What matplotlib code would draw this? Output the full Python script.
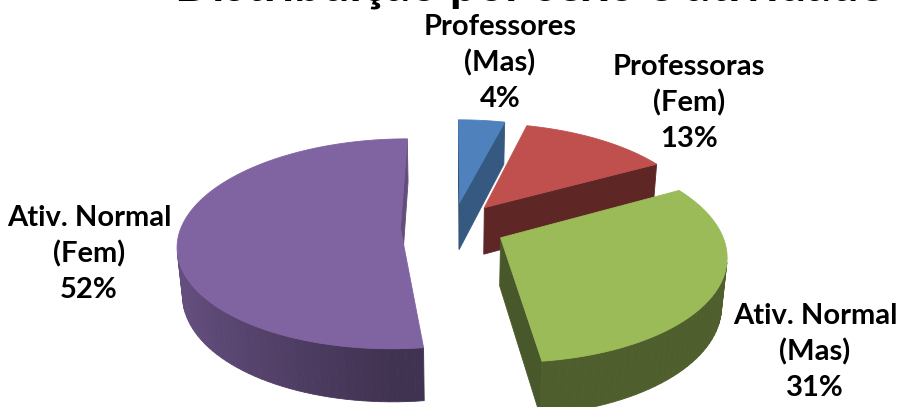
import numpy as np
import matplotlib.pyplot as plt
from matplotlib.patches import Polygon
from matplotlib.colors import to_rgb

W, H = 898, 407

categories = ["Professores\n(Mas)", "Professoras\n(Fem)", "Ativ. Normal\n(Mas)", "Ativ. Normal\n(Fem)"]
shares = [4, 13, 31, 52]
colors = ["#4F81BD", "#C0504D", "#9BBB59", "#8064A2"]
title = "Distribuição por sexo e atividade"

# label centres in pixel coordinates
label_pos = [(500, 63), (689, 103), (815, 352), (89, 254)]

# 3d view of the pie
elev = np.radians(27.8)
dist = 5.9
scale = 219
cx, cy = 453, 226.5
explode = 0.24
thick = 0.25
camera = np.array([0.0, -dist * np.cos(elev), dist * np.sin(elev)])


def project(X, Y, Z):
    depth = dist + Y * np.cos(elev) - Z * np.sin(elev)
    f = dist / depth
    return cx + scale * X * f, cy - scale * (Y * np.sin(elev) + Z * np.cos(elev)) * f


def shade(color, f):
    return tuple(np.clip(np.array(to_rgb(color)) * f, 0, 1))


plt.rcParams['font.family'] = ['Lato', 'DejaVu Sans']
fig = plt.figure(figsize=(W / 100, H / 100), dpi=100)
ax = fig.add_axes([0, 0, 1, 1])
ax.set_xlim(0, W)
ax.set_ylim(H, 0)
ax.axis('off')

bounds = np.cumsum([0] + shares) / sum(shares) * 360
slices = []
for i in range(len(shares)):
    a0, a1 = bounds[i], bounds[i + 1]
    mid = np.radians((a0 + a1) / 2)
    ox, oy = explode * np.sin(mid), explode * np.cos(mid)
    slices.append((i, a0, a1, ox, oy))

# far slices first
slices.sort(key=lambda s: -s[4])

for i, a0, a1, ox, oy in slices:
    col = colors[i]
    th = np.radians(np.linspace(a0, a1, int((a1 - a0) / 2) + 2))
    ax_ = ox + np.sin(th)
    ay_ = oy + np.cos(th)
    faces = []

    # outer wall
    for j in range(len(th) - 1):
        tm = (th[j] + th[j + 1]) / 2
        n = np.array([np.sin(tm), np.cos(tm), 0])
        p = np.array([ox + np.sin(tm), oy + np.cos(tm), -thick / 2])
        if n @ (camera - p) <= 0:
            continue
        X = [ax_[j], ax_[j + 1], ax_[j + 1], ax_[j]]
        Y = [ay_[j], ay_[j + 1], ay_[j + 1], ay_[j]]
        Z = [0, 0, -thick, -thick]
        f = 0.5 + 0.3 * max(0, -np.sin(tm))
        faces.append((np.linalg.norm(camera - p), X, Y, Z, f))

    # cut faces
    for t, n in ((th[0], np.array([-np.cos(th[0]), np.sin(th[0]), 0])),
                 (th[-1], np.array([np.cos(th[-1]), -np.sin(th[-1]), 0]))):
        ex, ey = ox + np.sin(t), oy + np.cos(t)
        p = np.array([(ox + ex) / 2, (oy + ey) / 2, -thick / 2])
        if n @ (camera - p) <= 0:
            continue
        X = [ox, ex, ex, ox]
        Y = [oy, ey, ey, oy]
        Z = [0, 0, -thick, -thick]
        f = 0.47 + 0.3 * max(0, n[0]) * (1 - abs(n[1]))
        faces.append((np.linalg.norm(camera - p), X, Y, Z, f))

    faces.sort(key=lambda fc: -fc[0])
    for _, X, Y, Z, f in faces:
        px, py = project(np.array(X), np.array(Y), np.array(Z))
        c = shade(col, f)
        ax.add_patch(Polygon(np.column_stack([px, py]), closed=True,
                             facecolor=c, edgecolor=c, lw=0.6))

    # top face
    X = np.concatenate([[ox], ax_])
    Y = np.concatenate([[oy], ay_])
    px, py = project(X, Y, np.zeros_like(X))
    ax.add_patch(Polygon(np.column_stack([px, py]), closed=True,
                         facecolor=col, edgecolor=col, lw=0.6))

for cat, val, (lx, ly) in zip(categories, shares, label_pos):
    ax.text(lx, ly, f"{cat}\n{val}%", ha='center', va='center', multialignment='center',
            fontsize=21, fontweight='bold', linespacing=1.45, color='black')

ax.text(530, 0.5, title, ha='center', va='baseline', fontsize=35, fontweight='bold')

fig.savefig('out.png', dpi=100)
